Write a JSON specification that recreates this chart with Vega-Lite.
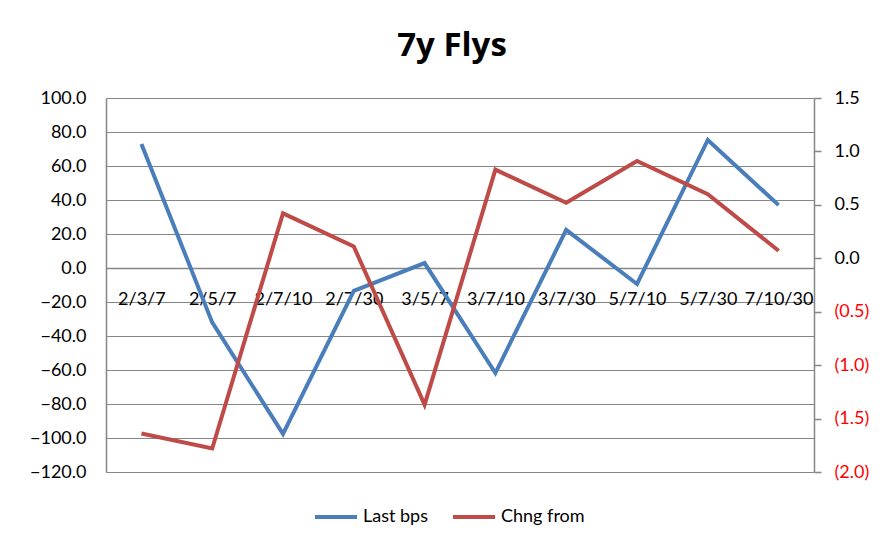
{
  "$schema": "https://vega.github.io/schema/vega-lite/v6.json",
  "width": 708,
  "height": 374,
  "autosize": {"type": "none"},
  "padding": {"left": 106, "top": 98, "right": 72, "bottom": 71},
  "background": "white",
  "config": {
    "font": "Lato",
    "view": {"stroke": null},
    "axis": {"labelFont": "Lato", "labelFontSize": 18, "labelColor": "black", "domainColor": "#868686", "gridColor": "#868686", "tickColor": "#868686", "domainWidth": 1.5, "gridWidth": 1.2, "tickWidth": 1.5}
  },
  "title": {"text": "7y Flys", "fontSize": 33, "fontWeight": "bold", "font": "Open Sans", "color": "black", "anchor": "middle", "offset": 26, "dx": -8},
  "data": {
    "values": [
      {"cat": "2/3/7", "series": "Last bps", "value": 73},
      {"cat": "2/5/7", "series": "Last bps", "value": -32},
      {"cat": "2/7/10", "series": "Last bps", "value": -97.6},
      {"cat": "2/7/30", "series": "Last bps", "value": -13.5},
      {"cat": "3/5/7", "series": "Last bps", "value": 2.9},
      {"cat": "3/7/10", "series": "Last bps", "value": -61.8},
      {"cat": "3/7/30", "series": "Last bps", "value": 22.4},
      {"cat": "5/7/10", "series": "Last bps", "value": -9.4},
      {"cat": "5/7/30", "series": "Last bps", "value": 75.3},
      {"cat": "7/10/30", "series": "Last bps", "value": 37},
      {"cat": "2/3/7", "series": "Chng from", "value": -1.64},
      {"cat": "2/5/7", "series": "Chng from", "value": -1.78},
      {"cat": "2/7/10", "series": "Chng from", "value": 0.42},
      {"cat": "2/7/30", "series": "Chng from", "value": 0.11},
      {"cat": "3/5/7", "series": "Chng from", "value": -1.37},
      {"cat": "3/7/10", "series": "Chng from", "value": 0.83},
      {"cat": "3/7/30", "series": "Chng from", "value": 0.52},
      {"cat": "5/7/10", "series": "Chng from", "value": 0.91},
      {"cat": "5/7/30", "series": "Chng from", "value": 0.6},
      {"cat": "7/10/30", "series": "Chng from", "value": 0.07}
    ]
  },
  "encoding": {
    "x": {
      "field": "cat", "type": "ordinal", "sort": null,
      "axis": {"title": null, "labelAngle": 0, "offset": -204, "ticks": false, "labelPadding": 22, "grid": false, "domain": true}
    },
    "color": {
      "field": "series", "type": "nominal",
      "scale": {"domain": ["Last bps", "Chng from"], "range": ["#4A7EBB", "#BE4B48"]},
      "legend": {"title": null, "orient": "none", "legendX": 207, "legendY": 396, "direction": "horizontal", "symbolType": "stroke", "symbolSize": 1764, "symbolStrokeWidth": 4, "labelFontSize": 18, "labelFont": "Lato", "labelColor": "black", "columnPadding": 16, "labelOffset": 4}
    }
  },
  "layer": [
    {
      "transform": [{"filter": "datum.series === 'Last bps'"}],
      "mark": {"type": "line", "strokeWidth": 4},
      "encoding": {
        "y": {
          "field": "value", "type": "quantitative",
          "scale": {"domain": [-120, 100], "nice": false, "zero": false},
          "axis": {"title": null, "orient": "left", "values": [-120, -100, -80, -60, -40, -20, 0, 20, 40, 60, 80, 100], "format": ".1f", "ticks": false, "labelPadding": 20, "grid": true, "domain": true}
        }
      }
    },
    {
      "transform": [{"filter": "datum.series === 'Chng from'"}],
      "mark": {"type": "line", "strokeWidth": 4},
      "encoding": {
        "y": {
          "field": "value", "type": "quantitative",
          "scale": {"domain": [-2, 1.5], "nice": false, "zero": false},
          "axis": {"title": null, "orient": "right", "values": [-2, -1.5, -1, -0.5, 0, 0.5, 1, 1.5], "labelExpr": "datum.value < 0 ? '(' + format(-datum.value, '.1f') + ')' : format(datum.value, '.1f')", "labelColor": {"condition": {"test": "datum.value < 0", "value": "#FF0000"}, "value": "black"}, "ticks": true, "tickSize": 7, "labelPadding": 13, "grid": false, "domain": true}
        }
      }
    }
  ],
  "resolve": {"scale": {"y": "independent"}}
}
